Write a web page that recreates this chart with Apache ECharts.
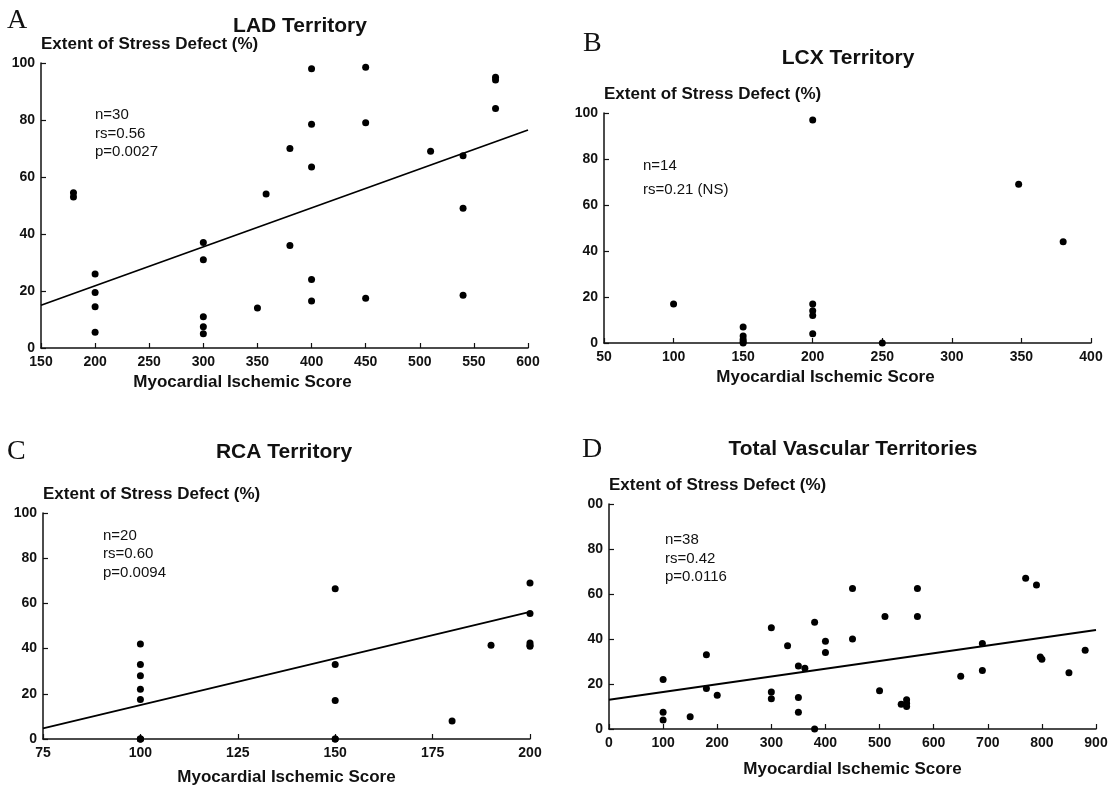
<!DOCTYPE html>
<html>
<head>
<meta charset="utf-8">
<title>Stress defect vs ischemic score</title>
<script src="https://cdn.jsdelivr.net/npm/echarts@6/dist/echarts.min.js"></script>
<style>
  html, body { margin: 0; padding: 0; background: #fff; }
  #chart { width: 1118px; height: 788px; }
</style>
</head>
<body>
<div id="chart"></div>
<script>
// A: LAD territory
const ladScore = [180, 180, 200, 200, 200, 200, 300, 300, 300, 300, 300, 350, 358, 380, 380,
  400, 400, 400, 400, 400, 450, 450, 450, 510, 540, 540, 540, 570, 570, 570]
const ladDefect = [54.5, 53, 26, 19.5, 14.5, 5.5, 37, 31, 11, 7.5, 5, 14, 54, 70, 36,
  98, 78.5, 63.5, 24, 16.5, 98.5, 79, 17.5, 69, 67.5, 49, 18.5, 95, 94, 84]
const ladFitX = [150, 600]
const ladFitY = [15, 76.5]

// B: LCX territory
const lcxScore = [100, 150, 150, 150, 150, 150, 200, 200, 200, 200, 200, 250, 348, 380]
const lcxDefect = [17, 7, 3, 1.5, 0.5, 0, 97, 17, 14, 12, 4, 0, 69, 44]

// C: RCA territory
const rcaScore = [100, 100, 100, 100, 100, 100, 100, 100, 150, 150, 150, 150, 150,
  180, 190, 200, 200, 200, 200, 200]
const rcaDefect = [42, 33, 28, 22, 17.5, 0, 0, 0, 66.5, 33, 17, 0, 0,
  8, 41.5, 69, 55.5, 42.5, 41.5, 41]
const rcaFitX = [75, 200]
const rcaFitY = [4.7, 56.3]

// D: total vascular territories
const totScore = [100, 100, 100, 150, 180, 180, 200, 300, 300, 300, 330, 350, 350, 350, 362,
  380, 380, 400, 400, 450, 450, 500, 510, 540, 550, 550, 550, 570, 570, 650, 690, 690,
  770, 790, 797, 800, 850, 880]
const totDefect = [22, 7.5, 4, 5.5, 33, 18, 15, 45, 16.5, 13.5, 37, 28, 14, 7.5, 27,
  47.5, 0, 39, 34, 62.5, 40, 17, 50, 11, 13, 10, 11.5, 62.5, 50, 23.5, 38, 26,
  67, 64, 32, 31, 25, 35]
const totFitX = [0, 900]
const totFitY = [13, 44]

// axis ranges: min, max, step
const xRanges = [[150, 600, 50], [50, 400, 50], [75, 200, 25], [0, 900, 100]]
const yRange = [0, 100, 20]

const titles = ['LAD Territory', 'LCX Territory', 'RCA Territory', 'Total Vascular Territories']
const letters = ['A', 'B', 'C', 'D']
const notes = [
  ['n=30', 'rs=0.56', 'p=0.0027'],
  ['n=14', 'rs=0.21 (NS)'],
  ['n=20', 'rs=0.60', 'p=0.0094'],
  ['n=38', 'rs=0.42', 'p=0.0116']
]

const sans = "'Liberation Sans', Arial, Helvetica, sans-serif"
const serif = "'Liberation Serif', 'Times New Roman', serif"

const grids = [
  { left: 41, top: 63, width: 487, height: 285 },
  { left: 604, top: 113, width: 487, height: 230 },
  { left: 43, top: 513, width: 487, height: 226 },
  { left: 609, top: 504, width: 487, height: 225 }
]
// where the loose texts sit: [title cx, title cy, letter x, letter cy, note x, note y, note step]
const textPos = [
  [300, 26, 7, 21, 95, 115, 18.5],
  [848, 58, 583, 44, 643, 166, 24],
  [284, 452, 7, 452, 103, 536, 18.2],
  [853, 449, 582, 450, 665, 540, 18.5]
]
const xNameGap = [26, 26, 30, 32]
const xNameShift = [84, 44, 0, 0]

function pairs (xs, ys) {
  return xs.map((x, i) => [x, ys[i]])
}

const chart = echarts.init(document.getElementById('chart'), null, { renderer: 'canvas' })

const xAxis = xRanges.map((r, i) => ({
  type: 'value',
  gridIndex: i,
  min: r[0],
  max: r[1],
  interval: r[2],
  name: 'Myocardial Ischemic Score',
  nameLocation: 'middle',
  nameGap: xNameGap[i],
  nameTextStyle: {
    color: '#111', fontFamily: sans, fontWeight: 'bold', fontSize: 17,
    padding: [0, xNameShift[i], 0, 0]
  },
  splitLine: { show: false },
  axisLine: { onZero: false, lineStyle: { color: '#111', width: 1.5 } },
  axisTick: { inside: true, length: 5, lineStyle: { color: '#111', width: 1.2 } },
  axisLabel: { color: '#111', fontFamily: sans, fontWeight: 'bold', fontSize: 14, margin: 7 }
}))

const yAxis = grids.map((g, i) => ({
  type: 'value',
  gridIndex: i,
  min: yRange[0],
  max: yRange[1],
  interval: yRange[2],
  name: 'Extent of Stress Defect (%)',
  nameLocation: 'end',
  nameGap: 10,
  nameTextStyle: {
    color: '#111', fontFamily: sans, fontWeight: 'bold', fontSize: 17,
    align: 'left', verticalAlign: 'bottom'
  },
  splitLine: { show: false },
  axisLine: { show: true, lineStyle: { color: '#111', width: 1.5 } },
  axisTick: { show: true, inside: true, length: 5, lineStyle: { color: '#111', width: 1.2 } },
  axisLabel: {
    color: '#111', fontFamily: sans, fontWeight: 'bold', fontSize: 14, margin: 6,
    // the scan has cut the leading 1 off the top label in panel D
    formatter: v => (i === 3 && v === 100) ? '00' : String(v)
  }
}))

const scatterSets = [
  pairs(ladScore, ladDefect),
  pairs(lcxScore, lcxDefect),
  pairs(rcaScore, rcaDefect),
  pairs(totScore, totDefect)
]
const fitSets = [
  pairs(ladFitX, ladFitY),
  null,
  pairs(rcaFitX, rcaFitY),
  pairs(totFitX, totFitY)
]

const series = []
scatterSets.forEach((d, i) => {
  series.push({
    type: 'scatter',
    xAxisIndex: i,
    yAxisIndex: i,
    data: d,
    symbol: 'circle',
    symbolSize: 7,
    itemStyle: { color: '#000', opacity: 1 },
    emphasis: { disabled: true }
  })
  if (fitSets[i]) {
    series.push({
      type: 'line',
      xAxisIndex: i,
      yAxisIndex: i,
      data: fitSets[i],
      showSymbol: false,
      lineStyle: { color: '#000', width: 1.8 },
      emphasis: { disabled: true }
    })
  }
})

const graphic = []
textPos.forEach((p, i) => {
  graphic.push({
    type: 'text', x: p[0], y: p[1],
    style: { text: titles[i], font: 'bold 21px ' + sans, fill: '#111', textAlign: 'center', textVerticalAlign: 'middle' }
  })
  graphic.push({
    type: 'text', x: p[2], y: p[3],
    style: { text: letters[i], font: '28px ' + serif, fill: '#111', textAlign: 'left', textVerticalAlign: 'middle' }
  })
  notes[i].forEach((t, k) => {
    graphic.push({
      type: 'text', x: p[4], y: p[5] + k * p[6],
      style: { text: t, font: '15px ' + sans, fill: '#111', textAlign: 'left', textVerticalAlign: 'middle' }
    })
  })
})

const options = {
  backgroundColor: '#fff',
  animation: false,
  grid: grids,
  xAxis: xAxis,
  yAxis: yAxis,
  series: series,
  graphic: graphic
}
chart.setOption(options)
</script>
</body>
</html>
